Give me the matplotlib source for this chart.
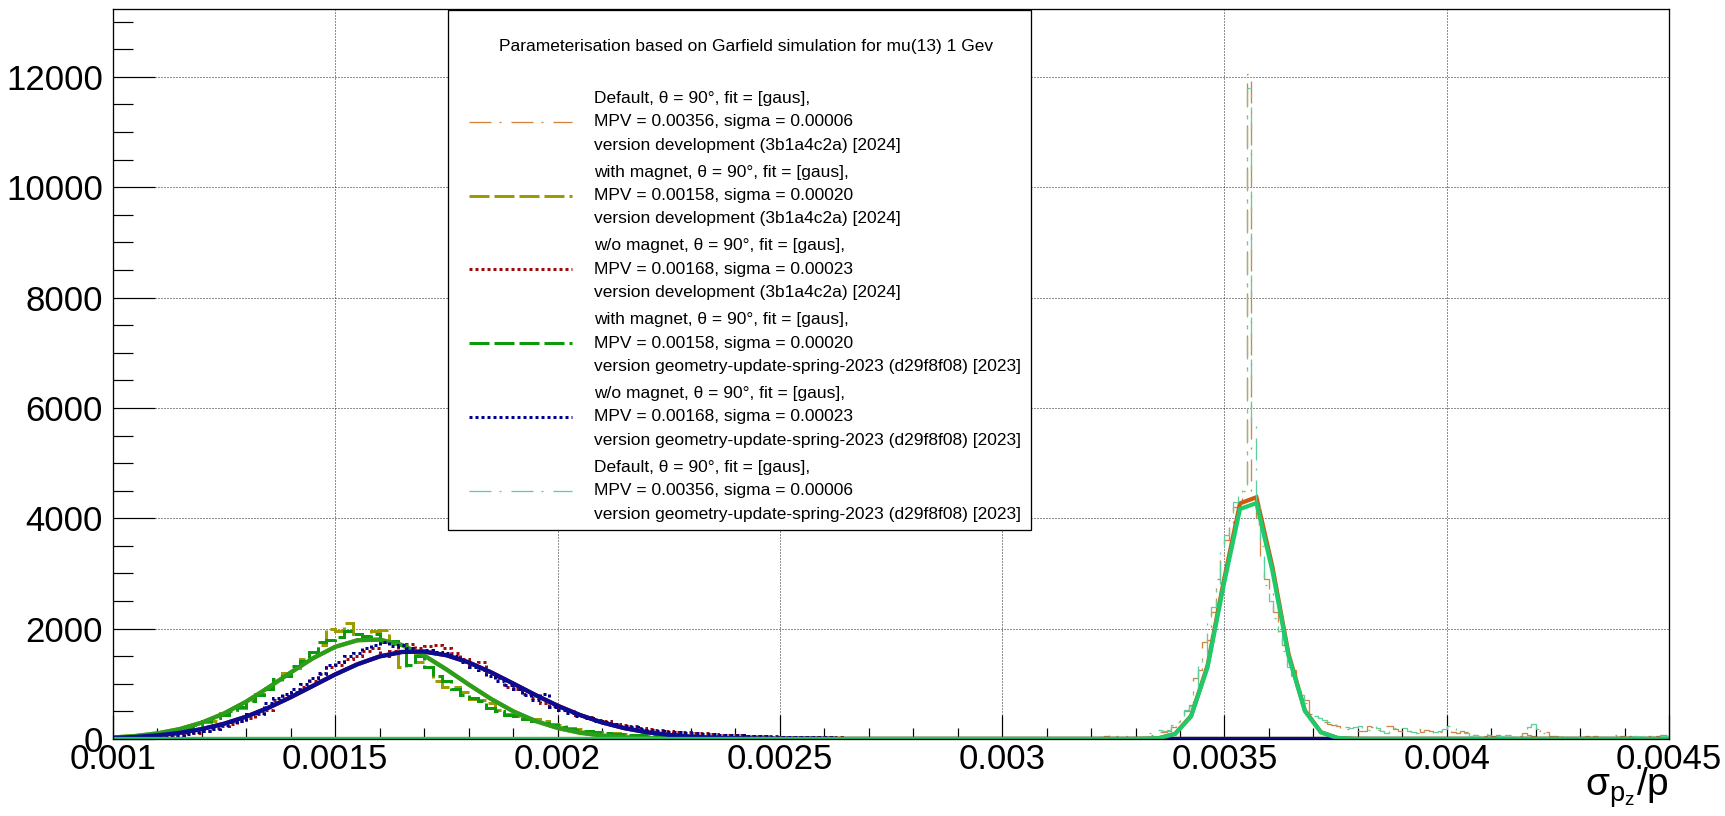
import numpy as np
import matplotlib
matplotlib.use("Agg")
import matplotlib.pyplot as plt
from matplotlib.lines import Line2D
from matplotlib.patches import Rectangle
from matplotlib.ticker import MultipleLocator

plt.rcParams['font.family'] = ['Liberation Sans', 'DejaVu Sans']
plt.rcParams['mathtext.fontset'] = 'custom'
plt.rcParams['mathtext.rm'] = 'Liberation Sans'
plt.rcParams['mathtext.it'] = 'Liberation Sans'
plt.rcParams['mathtext.default'] = 'regular'
plt.rcParams['lines.scale_dashes'] = False

# ---------------- data ----------------
broad_start = 0.001
broad_width = 0.00002
narrow_start = 0.0032
narrow_width = 0.00001

magnet_dev_counts = [
    40, 45, 50, 60, 75, 90, 150, 170, 200, 260,
    300, 330, 480, 520, 560, 700, 820, 930, 1050, 1200,
    1280, 1450, 1580, 1700, 2000, 1950, 2100, 1900, 1800, 1950,
    1980, 1750, 1300, 1600, 1400, 1300, 1050, 950, 950, 850,
    720, 700, 650, 520, 450, 420, 380, 360, 330, 280,
    250, 200, 180, 150, 120, 110, 100, 90, 80, 70,
    60, 55, 50, 45, 40, 40, 35, 30, 30, 25,
    25, 20, 20, 15, 15, 20, 10, 15, 10, 10,
    10, 10, 5, 10, 5, 5, 10, 5, 5, 5,
    5, 5, 5, 0, 5, 5, 0, 5, 0, 5,
    0, 0, 5, 0, 0, 5, 0, 0, 0, 0,
    0, 0, 0, 0, 0, 0, 0, 0, 0, 0]

magnet_2023_counts = [
    35, 50, 55, 65, 70, 100, 130, 175, 210, 250,
    330, 380, 430, 500, 580, 680, 800, 900, 1080, 1150,
    1330, 1420, 1580, 1750, 1800, 1850, 1950, 1900, 1870, 1900,
    1750, 1780, 1700, 1350, 1500, 1300, 1150, 1050, 900, 800,
    750, 680, 560, 500, 430, 410, 370, 320, 290, 260,
    210, 190, 160, 140, 120, 100, 95, 85, 70, 65,
    55, 50, 45, 45, 35, 30, 30, 25, 25, 20,
    20, 15, 20, 15, 10, 15, 10, 10, 10, 5,
    10, 5, 5, 10, 5, 5, 5, 5, 5, 0,
    5, 0, 5, 5, 0, 5, 0, 5, 0, 0,
    5, 0, 0, 5, 0, 0, 0, 0, 0, 0,
    0, 0, 0, 0, 0, 0, 0, 0, 0, 0]

nomag_dev_counts = [
    20, 25, 30, 35, 45, 55, 60, 80, 100, 110,
    150, 200, 230, 280, 330, 380, 450, 520, 700, 780,
    850, 950, 1050, 1180, 1300, 1350, 1450, 1500, 1600, 1650,
    1500, 1600, 1700, 1720, 1650, 1680, 1700, 1650, 1550, 1450,
    1350, 1400, 1200, 1100, 950, 900, 820, 750, 650, 600,
    560, 500, 430, 400, 350, 320, 280, 250, 230, 200,
    180, 160, 140, 130, 120, 100, 100, 90, 80, 70,
    70, 60, 55, 50, 50, 45, 40, 40, 35, 30,
    30, 30, 25, 25, 20, 20, 20, 15, 20, 15,
    15, 15, 10, 15, 10, 10, 10, 5, 10, 5,
    5, 10, 5, 5, 5, 0, 5, 0, 5, 0,
    0, 5, 0, 0, 0, 0, 0, 0, 0, 0]

nomag_2023_counts = [
    15, 20, 30, 40, 45, 50, 65, 75, 90, 120,
    140, 180, 250, 300, 320, 450, 480, 650, 750, 820,
    900, 1000, 1100, 1200, 1350, 1400, 1500, 1550, 1650, 1700,
    1750, 1680, 1700, 1650, 1600, 1620, 1580, 1550, 1500, 1400,
    1300, 1250, 1150, 1050, 980, 900, 800, 700, 820, 580,
    520, 480, 420, 380, 330, 300, 280, 240, 220, 190,
    170, 150, 130, 120, 110, 100, 95, 85, 80, 75,
    65, 60, 55, 55, 45, 45, 40, 35, 35, 30,
    30, 25, 25, 20, 25, 20, 15, 20, 15, 15,
    15, 10, 15, 10, 10, 10, 5, 10, 5, 10,
    5, 5, 5, 5, 0, 5, 5, 0, 5, 0,
    0, 0, 5, 0, 0, 0, 0, 0, 0, 0]

default_dev_counts = [
    0, 5, 30, 60, 80, 50, 40, 60, 20, 10,
    40, 30, 50, 80, 110, 120, 130, 150, 220, 320,
    380, 500, 620, 1100, 1250, 1750, 1800, 2300, 2900, 3300,
    3600, 3900, 4200, 4300, 4500, 12050, 4400, 3900, 3300, 2900,
    2650, 2300, 1900, 1700, 1300, 1250, 900, 720, 700, 450,
    430, 300, 300, 280, 245, 240, 180, 190, 150, 150,
    140, 150, 240, 220, 160, 200, 240, 230, 180, 150,
    120, 150, 140, 190, 130, 160, 150, 110, 120, 150,
    150, 130, 100, 140, 120, 80, 70, 60, 60, 80,
    60, 70, 50, 60, 80, 60, 50, 100, 80, 60,
    150, 180, 120, 60, 50, 40, 60, 40, 50, 40,
    40, 50, 40, 60, 50, 30, 50, 70, 40, 50,
    40, 50, 60, 40, 80, 50, 40, 60, 70, 80]

default_2023_counts = [
    0, 0, 10, 20, 30, 10, 60, 40, 20, 10,
    30, 20, 60, 100, 140, 160, 150, 170, 250, 300,
    420, 520, 600, 900, 1400, 1500, 2100, 2400, 2800, 3400,
    3700, 4100, 4300, 4400, 4600, 11800, 5700, 4300, 3500, 2800,
    2500, 2200, 1950, 1600, 1300, 1150, 950, 800, 650, 500,
    420, 380, 340, 300, 280, 250, 230, 215, 200, 220,
    240, 180, 160, 240, 200, 150, 100, 150, 200, 240,
    200, 150, 120, 100, 160, 120, 130, 120, 150, 180,
    240, 220, 150, 120, 100, 60, 80, 50, 60, 90,
    80, 60, 50, 70, 40, 50, 60, 120, 220, 280,
    180, 100, 60, 40, 30, 40, 30, 20, 30, 20,
    20, 30, 20, 40, 30, 20, 30, 40, 50, 30,
    40, 30, 50, 40, 60, 30, 50, 40, 60, 50]

# fitted gaussian curves (drawn as polylines)
fit_broad_x = [0.00100, 0.00105, 0.00110, 0.00115, 0.00120, 0.00125, 0.00130,
               0.00135, 0.00140, 0.00145, 0.00150, 0.00155, 0.00160, 0.00165,
               0.00170, 0.00175, 0.00180, 0.00185, 0.00190, 0.00195, 0.00200,
               0.00205, 0.00210, 0.00215, 0.00220, 0.00225, 0.00230, 0.00235,
               0.00240, 0.00245, 0.00250, 0.00260, 0.00450]
fit_magnet_y = [27, 54, 102, 180, 298, 464, 679, 935, 1207, 1465, 1671, 1790,
                1801, 1703, 1512, 1261, 988, 728, 503, 327, 200, 114, 62, 31,
                15, 7, 3, 1, 0, 0, 0, 0, 0]
fit_nomag_y = [20, 37, 66, 112, 180, 277, 406, 568, 758, 964, 1171, 1355,
               1497, 1577, 1584, 1518, 1388, 1210, 1006, 798, 604, 436, 300,
               197, 123, 74, 42, 23, 12, 6, 3, 0, 0]
fit_default_x = [0.00100, 0.00328, 0.003316, 0.003352, 0.003389, 0.003425,
                 0.003462, 0.003498, 0.003535, 0.003572, 0.003608, 0.003644,
                 0.003681, 0.003717, 0.003754, 0.00379, 0.00383, 0.00450]
fit_default_dev_y = [0, 0, 2, 14, 94, 419, 1331, 2845, 4270, 4381, 3119, 1548,
                     518, 124, 20, 2, 0, 0]
fit_default_2023_y = [0, 0, 2, 14, 92, 409, 1299, 2777, 4168, 4276, 3044, 1511,
                      506, 121, 19, 2, 0, 0]

legend_title = "Parameterisation based on Garfield simulation for mu(13) 1 Gev"
legend_labels = [
    ["Default, \u03b8 = 90\u00b0, fit = [gaus],", "MPV = 0.00356, sigma = 0.00006",
     "version development (3b1a4c2a) [2024]"],
    ["with magnet, \u03b8 = 90\u00b0, fit = [gaus],", "MPV = 0.00158, sigma = 0.00020",
     "version development (3b1a4c2a) [2024]"],
    ["w/o magnet, \u03b8 = 90\u00b0, fit = [gaus],", "MPV = 0.00168, sigma = 0.00023",
     "version development (3b1a4c2a) [2024]"],
    ["with magnet, \u03b8 = 90\u00b0, fit = [gaus],", "MPV = 0.00158, sigma = 0.00020",
     "version geometry-update-spring-2023 (d29f8f08) [2023]"],
    ["w/o magnet, \u03b8 = 90\u00b0, fit = [gaus],", "MPV = 0.00168, sigma = 0.00023",
     "version geometry-update-spring-2023 (d29f8f08) [2023]"],
    ["Default, \u03b8 = 90\u00b0, fit = [gaus],", "MPV = 0.00356, sigma = 0.00006",
     "version geometry-update-spring-2023 (d29f8f08) [2023]"],
]

xtick_values = [0.001, 0.0015, 0.002, 0.0025, 0.003, 0.0035, 0.004, 0.0045]
xtick_labels = ['0.001', '0.0015', '0.002', '0.0025', '0.003', '0.0035', '0.004', '0.0045']
ytick_values = [0, 2000, 4000, 6000, 8000, 10000, 12000]
ytick_labels = ['0', '2000', '4000', '6000', '8000', '10000', '12000']
x_label = r'$\sigma_{p_{z}}/p$'

# ---------------- styling ----------------
W, H, DPI = 1725, 816, 100


def pt(p):
    return p * 72.0 / DPI


STY = {
    'dashdot': dict(linestyle=(0, (pt(22), pt(8), pt(2), pt(10))), linewidth=pt(1.3)),
    'dashed': dict(linestyle=(0, (pt(20), pt(5))), linewidth=pt(3)),
    'dotted': dict(linestyle=(0, (pt(3), pt(3))), linewidth=pt(3)),
}

series = [
    # counts, start, width, hist colour, style, fit x, fit y, fit colour
    (default_dev_counts, narrow_start, narrow_width, '#d4843e', 'dashdot',
     fit_default_x, fit_default_dev_y, '#cc5a12'),
    (magnet_dev_counts, broad_start, broad_width, '#9c9c00', 'dashed',
     fit_broad_x, fit_magnet_y, '#9c9c00'),
    (nomag_dev_counts, broad_start, broad_width, '#9c0a0a', 'dotted',
     fit_broad_x, fit_nomag_y, '#9c0a0a'),
    (magnet_2023_counts, broad_start, broad_width, '#0a9a0a', 'dashed',
     fit_broad_x, fit_magnet_y, '#2c9e1e'),
    (nomag_2023_counts, broad_start, broad_width, '#00008f', 'dotted',
     fit_broad_x, fit_nomag_y, '#0c0c92'),
    (default_2023_counts, narrow_start, narrow_width, '#5ccf9e', 'dashdot',
     fit_default_x, fit_default_2023_y, '#1fca6a'),
]

fig = plt.figure(figsize=(W / DPI, H / DPI), dpi=DPI)
ax = fig.add_axes([113 / W, 1 - 739 / H, (1669 - 113) / W, (739 - 9) / H])

z = 3
for counts, start, width, hcol, sty, fx_, fy_, fcol in series:
    edges = start + width * np.arange(len(counts) + 1)
    ax.stairs(counts, edges, baseline=None, edgecolor=hcol, fill=False,
              zorder=z, **STY[sty])
    z += 1
    ax.plot(fx_, fy_, color=fcol, lw=pt(4.2), solid_joinstyle='miter',
            zorder=z)
    z += 1

ax.set_xlim(0.001, 0.0045)
ax.set_ylim(0, 13230)
ax.set_xticks(xtick_values, xtick_labels)
ax.set_yticks(ytick_values, ytick_labels)
ax.xaxis.set_minor_locator(MultipleLocator(0.0001))
ax.yaxis.set_minor_locator(MultipleLocator(500))
ax.tick_params(axis='both', which='both', direction='in', colors='black',
               width=pt(1.2), top=False, right=False)
ax.tick_params(axis='y', which='major', length=pt(42), pad=pt(10), labelsize=25)
ax.tick_params(axis='y', which='minor', length=pt(20))
ax.tick_params(axis='x', which='major', length=pt(24), pad=pt(4), labelsize=25)
ax.tick_params(axis='x', which='minor', length=pt(11.5))
ax.grid(True, which='major', color='#222222', lw=pt(1), ls=(0, (pt(1), pt(2))))
ax.set_axisbelow(True)
for s in ax.spines.values():
    s.set_linewidth(pt(1.3))
    s.set_color('black')
    s.set_zorder(50)

fig.text(1669 / W, 1 - 788 / H, x_label, ha='right', va='center', fontsize=28)


# ---------------- legend (ROOT-style box) ----------------
def fxp(x):
    return x / W


def fyp(y):
    return 1 - y / H


box = Rectangle((fxp(448), fyp(530)), (1031 - 448) / W, (530 - 10) / H,
                transform=fig.transFigure, facecolor='white', edgecolor='black',
                lw=pt(1.3), zorder=10)
fig.add_artist(box)
fig.text(fxp(746), fyp(47), legend_title, ha='center', va='center',
         fontsize=12.5, zorder=12)

for k, (labels, s) in enumerate(zip(legend_labels, series)):
    ymid = 121.7 + 73.8 * k
    hcol, sty = s[3], s[4]
    ln = Line2D([fxp(469), fxp(572)], [fyp(ymid), fyp(ymid)],
                transform=fig.transFigure, color=hcol, zorder=12,
                dash_capstyle='butt', **STY[sty])
    fig.add_artist(ln)
    for j, txt in enumerate(labels):
        fig.text(fxp(594), fyp(ymid + (j - 1) * 23.4), txt, ha='left',
                 va='center', fontsize=12.5, zorder=12)

fig.savefig('out.png', dpi=DPI)
